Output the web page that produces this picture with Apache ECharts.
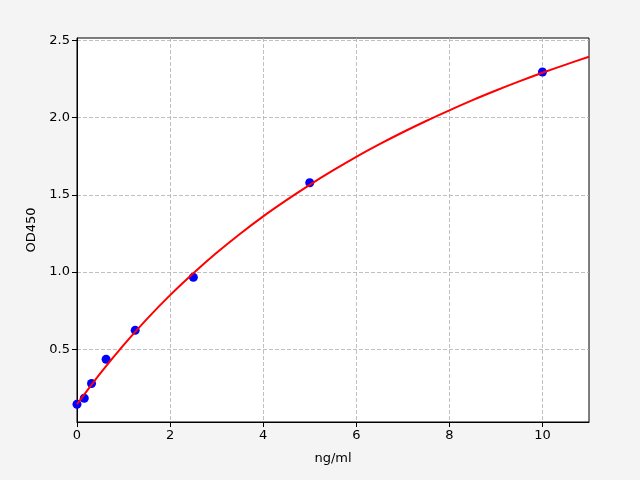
<!DOCTYPE html>
<html>
<head>
<meta charset="utf-8">
<script src="https://cdn.jsdelivr.net/npm/echarts@6/dist/echarts.min.js"></script>
<style>
  html, body { margin: 0; padding: 0; background: #f4f4f4; }
  #chart { width: 640px; height: 480px; }
</style>
</head>
<body>
<div id="chart"></div>
<script>
// standard points (ng/ml vs OD450)
var stdConc = [0, 0.156, 0.312, 0.625, 1.25, 2.5, 5, 10];
var stdOD = [0.145, 0.184, 0.279, 0.436, 0.623, 0.966, 1.578, 2.295];

// fitted curve, every 0.5 ng/ml
var fitX = [0, 0.5, 1, 1.5, 2, 2.5, 3, 3.5, 4, 4.5, 5, 5.5, 6, 6.5, 7, 7.5, 8, 8.5, 9, 9.5, 10, 10.5, 11];
var fitY = [0.145, 0.345, 0.528, 0.696, 0.851, 0.993, 1.125, 1.247, 1.361, 1.466, 1.565, 1.658, 1.746, 1.828,
  1.905, 1.978, 2.047, 2.113, 2.175, 2.234, 2.29, 2.343, 2.394];

var yTicks = [0.5, 1.0, 1.5, 2.0, 2.5];

var pts = [];
for (var i = 0; i < stdConc.length; i++) {
  pts.push([stdConc[i], stdOD[i]]);
}
var fit = [];
for (var j = 0; j < fitX.length; j++) {
  fit.push([fitX[j], fitY[j]]);
}

var font = 'DejaVu Sans';
var chart = echarts.init(document.getElementById('chart'), null, { renderer: 'canvas' });
chart.setOption({
  backgroundColor: '#f4f4f4',
  animation: false,
  grid: {
    left: 77, right: 51, top: 38, bottom: 58,
    show: true, backgroundColor: '#fff', borderColor: '#000', borderWidth: 1
  },
  xAxis: {
    type: 'value',
    min: 0, max: 11, interval: 2,
    name: 'ng/ml', nameLocation: 'middle', nameGap: 30,
    nameTextStyle: { color: '#000', fontFamily: font, fontSize: 13 },
    axisLine: { show: true, lineStyle: { color: '#000', width: 1 } },
    axisTick: { show: true, inside: false, length: 5, lineStyle: { color: '#000' } },
    axisLabel: { color: '#000', fontFamily: font, fontSize: 13, margin: 7, showMaxLabel: false },
    splitLine: { show: true, showMaxLine: false, lineStyle: { color: '#b0b0b0', type: [4, 2], width: 0.8 } }
  },
  yAxis: {
    type: 'value',
    min: 0.03, max: 2.515,
    name: 'OD450', nameLocation: 'middle', nameGap: 38,
    nameTextStyle: { color: '#000', fontFamily: font, fontSize: 13 },
    axisLine: { show: true, lineStyle: { color: '#000', width: 1 } },
    axisTick: { show: true, inside: false, length: 5, lineStyle: { color: '#000' }, customValues: yTicks },
    axisLabel: {
      color: '#000', fontFamily: font, fontSize: 13, margin: 7,
      customValues: yTicks,
      formatter: function (v) { return v.toFixed(1); }
    },
    splitLine: { show: true, lineStyle: { color: '#b0b0b0', type: [4, 2], width: 0.8 } }
  },
  series: [
    {
      name: 'std',
      type: 'scatter',
      data: pts,
      symbol: 'circle',
      symbolSize: 9,
      itemStyle: { color: '#0000ff', opacity: 1 },
      z: 2
    },
    {
      name: 'fit',
      type: 'line',
      data: fit,
      smooth: 0.3,
      showSymbol: false,
      lineStyle: { color: '#ff0000', width: 2 },
      z: 3
    }
  ]
});
</script>
</body>
</html>
